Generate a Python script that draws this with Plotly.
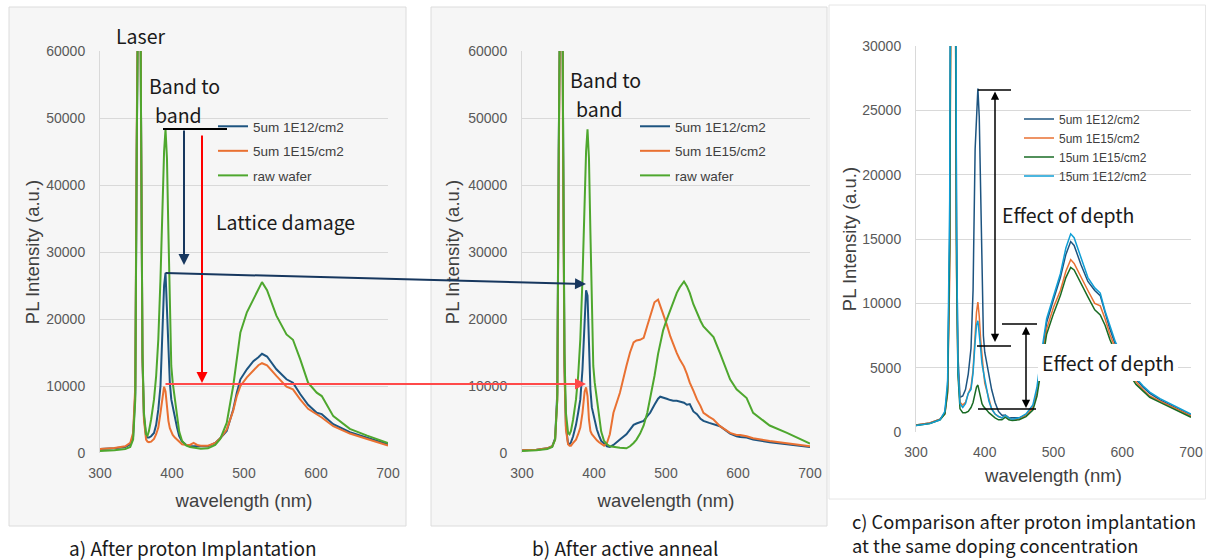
import plotly.graph_objects as go

W, H = 1206, 560


def px(x):
    return x / W


def py(y):
    return 1 - y / H


# ---------------- data ----------------
X_TICKS = [300, 400, 500, 600, 700]

# Panel a) After proton implantation
WL_A = [300, 320, 335, 342, 346, 349, 351, 353, 355, 357,
        359, 361, 364, 366, 368, 371, 375, 378, 381, 384,
        387, 389, 391, 393, 395, 397, 399, 401, 404, 407,
        410, 414, 420, 425, 430, 435, 440, 450, 460, 467,
        476, 485, 490, 495, 504, 513, 520, 525, 532, 545,
        559, 568, 578, 589, 601, 608, 624, 647, 671, 700]
A_5UM_1E12 = [600, 700, 900, 1300, 2500, 9000, 45000, 95000, 95000, 50000,
              14000, 5500, 2500, 2300, 2300, 2500, 3000, 4200, 6500, 10000,
              18000, 25000, 26900, 21000, 14000, 10500, 8000, 6800, 5500, 3800,
              2500, 1700, 1200, 1000, 1000, 1000, 1000, 1000, 1500, 2200,
              3300, 6500, 9000, 11000, 12500, 13700, 14300, 14800, 14400, 12500,
              11000, 10500, 8800, 7200, 6000, 5800, 4300, 3100, 2300, 1300]
A_5UM_1E15 = [600, 750, 1000, 1500, 3000, 10000, 48000, 95000, 95000, 50000,
              14000, 5000, 2000, 1700, 1600, 1700, 2100, 2800, 3800, 6000,
              8800, 9900, 9200, 6800, 4800, 3700, 3100, 2700, 2300, 2000,
              1600, 1300, 1200, 1200, 1500, 1200, 1100, 1100, 1500, 2200,
              3500, 6300, 8500, 10000, 11300, 12400, 13100, 13400, 13100, 11500,
              9900, 9500, 8000, 6600, 5800, 5300, 4000, 2900, 2100, 1100]
A_RAW = [300, 400, 600, 900, 2000, 8000, 45000, 95000, 95000, 50000,
         15000, 6000, 2800, 2600, 3300, 5000, 8000, 11500, 17000, 26000,
         38000, 45000, 48300, 44000, 33000, 20000, 13000, 10500, 7800, 5000,
         3200, 1800, 1100, 900, 800, 700, 650, 700, 1200, 2100,
         4500, 10000, 14000, 18000, 21000, 22900, 24500, 25500, 24300, 20500,
         17700, 16900, 14000, 10500, 9000, 8500, 5500, 3600, 2600, 1500]

# Panel b) After active anneal
WL_B = [300, 320, 335, 342, 346, 349, 351, 353, 355, 357,
        359, 361, 364, 366, 368, 371, 375, 378, 381, 384,
        387, 389, 391, 393, 395, 397, 399, 401, 404, 407,
        410, 414, 418, 422, 427, 436, 445, 450, 455, 459,
        464, 469, 474, 478, 484, 489, 492, 496, 501, 506,
        510, 515, 519, 525, 529, 533, 538, 543, 548, 552,
        560, 566, 575, 589, 598, 603, 612, 621, 644, 668,
        700]
B_5UM_1E12 = [400, 500, 700, 1000, 2200, 9000, 45000, 95000, 95000, 50000,
              13000, 4000, 1400, 1300, 1600, 2500, 4200, 6000, 8000, 12500,
              21000, 24300, 23500, 16000, 9500, 6800, 5800, 4700, 3500, 2600,
              1800, 1400, 1000, 900, 1200, 2000, 2800, 3500, 4200, 4400,
              4600, 4800, 5500, 6000, 7200, 8100, 8400, 8300, 8100, 7900,
              7800, 7800, 7700, 7500, 7200, 7300, 6200, 5800, 5100, 4800,
              4500, 4300, 4000, 2900, 2500, 2400, 2300, 2000, 1600, 1300,
              900]
B_5UM_1E15 = [400, 500, 700, 1000, 2000, 8000, 42000, 95000, 95000, 45000,
              12000, 3500, 1300, 1100, 1100, 1500, 2000, 2800, 3800, 6000,
              9200, 9800, 8500, 5000, 3300, 2800, 2500, 2200, 1900, 1600,
              1400, 1100, 1500, 2800, 6000, 9000, 13000, 15000, 16500, 16800,
              16900, 17200, 19000, 20500, 22500, 22900, 22000, 20900, 19200, 17400,
              16200, 14900, 14000, 12900, 11800, 10500, 9300, 8000, 7000, 6000,
              5400, 5000, 4000, 3000, 2700, 2700, 2500, 2200, 1800, 1500,
              1000]
B_RAW = [300, 400, 600, 900, 2000, 8000, 45000, 95000, 95000, 50000,
         15000, 6000, 3000, 2800, 3300, 5000, 8000, 11500, 17000, 26000,
         38000, 45000, 48300, 44000, 33000, 20000, 13000, 10500, 7800, 5000,
         3200, 1800, 1300, 1000, 900, 800, 700, 1000, 1500, 2000,
         2900, 4100, 6000, 8000, 11500, 14800, 16500, 18300, 19900, 21300,
         22500, 23900, 24700, 25600, 24900, 23900, 22200, 20800, 19700, 18900,
         17900, 17300, 14900, 11000, 9500, 9000, 8200, 6000, 4100, 3000,
         1400]

# Panel c) Comparison after proton implantation
WL_C = [300, 320, 335, 342, 346, 349, 351, 353, 355, 357,
        359, 361, 364, 368, 372, 376, 380, 383, 386, 388,
        390, 392, 394, 396, 398, 400, 403, 406, 410, 415,
        420, 425, 430, 435, 440, 450, 460, 470, 476, 482,
        490, 500, 510, 518, 525, 530, 540, 550, 560, 568,
        575, 582, 590, 600, 610, 620, 630, 640, 655, 670,
        685, 700]
C_5UM_1E12 = [550, 700, 1000, 1500, 3500, 15000, 45000, 70000, 70000, 45000,
              15000, 6000, 2700, 2800, 3300, 4500, 6500, 11000, 22000, 25000,
              26700, 24500, 18500, 11000, 7500, 6200, 5400, 4500, 3300, 2300,
              1600, 1300, 1300, 1100, 1100, 1100, 1300, 1900, 3200, 5500,
              8500, 10300, 12000, 13800, 14800, 14500, 13000, 11700, 11000, 10600,
              9200, 8000, 6800, 5800, 5000, 4100, 3500, 3000, 2500, 2100,
              1700, 1300]
C_5UM_1E15 = [550, 700, 1000, 1400, 3000, 12000, 38000, 60000, 60000, 38000,
              12000, 5000, 2300, 2100, 2300, 3000, 3500, 4800, 7500, 9300,
              10100, 9000, 7200, 5800, 4800, 3800, 3100, 2600, 1800, 1400,
              1200, 1100, 1300, 1100, 1000, 1000, 1300, 1900, 3200, 5400,
              8000, 9700, 11000, 12500, 13400, 13100, 12000, 11000, 10000, 9800,
              8800, 7600, 6500, 5500, 4700, 3900, 3300, 2800, 2400, 2000,
              1600, 1250]
C_15UM_1E15 = [500, 650, 950, 1400, 3200, 14000, 40000, 60000, 60000, 40000,
               13000, 4500, 1800, 1500, 1500, 1600, 1900, 2300, 3000, 3500,
               3650, 3200, 2600, 2200, 2000, 1900, 1700, 1500, 1300, 1100,
               950, 950, 1150, 950, 900, 950, 1200, 1700, 2800, 5000,
               7600, 9200, 10600, 12000, 12800, 12600, 11500, 10500, 9500, 9100,
               8300, 7200, 6200, 5300, 4500, 3700, 3200, 2700, 2300, 1900,
               1500, 1150]
C_15UM_1E12 = [500, 650, 950, 1600, 4000, 18000, 50000, 70000, 70000, 50000,
               16000, 5000, 2200, 1900, 2200, 3000, 3300, 4600, 7000, 8300,
               8650, 7800, 6500, 5300, 4500, 4100, 3300, 2400, 1800, 1400,
               1200, 1100, 1300, 1100, 1000, 1100, 1400, 2100, 3500, 6000,
               8800, 10600, 12300, 14300, 15400, 15100, 13500, 12000, 11200, 10800,
               9400, 8200, 7000, 5900, 5100, 4200, 3600, 3100, 2600, 2200,
               1800, 1400]

# ---------------- style ----------------
C_BLUE = "#1d5480"
C_ORANGE = "#E97132"
C_GREEN = "#4EA72E"
C_DGREEN = "#196B24"
C_LBLUE = "#0F9ED5"

SANS = "Liberation Sans, Arial, sans-serif"
JP = "Noto Sans CJK JP, Noto Sans, sans-serif"

fig = go.Figure()


def add(x, y, name, color, xa, ya, leg, grp, width):
    fig.add_trace(go.Scatter(
        x=x, y=y, name=name, mode="lines",
        line=dict(color=color, width=width),
        xaxis=xa, yaxis=ya, legend=leg, legendgroup=grp,
        hoverinfo="skip"))


add(WL_A, A_5UM_1E12, "5um 1E12/cm2", C_BLUE, "x", "y", "legend", "a1", 2)
add(WL_A, A_5UM_1E15, "5um 1E15/cm2", C_ORANGE, "x", "y", "legend", "a2", 2)
add(WL_A, A_RAW, "raw wafer", C_GREEN, "x", "y", "legend", "a3", 2)

add(WL_B, B_5UM_1E12, "5um 1E12/cm2", C_BLUE, "x2", "y2", "legend2", "b1", 2)
add(WL_B, B_5UM_1E15, "5um 1E15/cm2", C_ORANGE, "x2", "y2", "legend2", "b2", 2)
add(WL_B, B_RAW, "raw wafer", C_GREEN, "x2", "y2", "legend2", "b3", 2)

add(WL_C, C_5UM_1E12, "5um 1E12/cm2", C_BLUE, "x3", "y3", "legend3", "c1", 1.5)
add(WL_C, C_5UM_1E15, "5um 1E15/cm2", C_ORANGE, "x3", "y3", "legend3", "c2", 1.5)
add(WL_C, C_15UM_1E15, "15um 1E15/cm2", C_DGREEN, "x3", "y3", "legend3", "c3", 1.5)
add(WL_C, C_15UM_1E12, "15um 1E12/cm2", C_LBLUE, "x3", "y3", "legend3", "c4", 1.5)

tickfont = dict(family=SANS, size=14, color="#595959")
titlefont = dict(family=SANS, size=18.5, color="#404040")


def xax(x0, x1, anchor, standoff):
    return dict(domain=[px(x0), px(x1)], anchor=anchor, range=[300, 700],
                tickvals=X_TICKS, showgrid=False, zeroline=False,
                showline=False, ticks="", tickfont=tickfont,
                ticklabelstandoff=10, fixedrange=True, automargin=False,
                title=dict(text="wavelength (nm)", font=titlefont, standoff=standoff))


def yax(y0, y1, anchor, top, dtick, standoff):
    return dict(domain=[py(y1), py(y0)], anchor=anchor, range=[0, top],
                dtick=dtick, tickformat="d", showgrid=True,
                gridcolor="#d9d9d9", gridwidth=1, zeroline=False,
                showline=True, linecolor="#d9d9d9", linewidth=1,
                ticks="", tickfont=tickfont, ticklabelstandoff=11,
                fixedrange=True, automargin=False,
                title=dict(text="PL Intensity (a.u.)", font=titlefont, standoff=standoff))


def legend(x_text, y_top, size, gap):
    return dict(x=px(x_text - 40), y=py(y_top), xanchor="left", yanchor="top",
                bgcolor="rgba(0,0,0,0)", borderwidth=0,
                font=dict(family=SANS, size=size, color="#404040"),
                traceorder="grouped", tracegroupgap=gap,
                itemclick=False, itemdoubleclick=False)


shapes = [
    dict(type="rect", xref="paper", yref="paper", x0=px(9), x1=px(406),
         y0=py(526), y1=py(7), fillcolor="#f6f6f6",
         line=dict(color="#dcdcdc", width=1), layer="below"),
    dict(type="rect", xref="paper", yref="paper", x0=px(431), x1=px(827),
         y0=py(526), y1=py(7), fillcolor="#f6f6f6",
         line=dict(color="#dcdcdc", width=1), layer="below"),
    dict(type="rect", xref="paper", yref="paper", x0=px(829), x1=px(1205.5),
         y0=py(499), y1=py(5), fillcolor="#ffffff",
         line=dict(color="#e6e6e6", width=1), layer="below"),
]


def hline(x0, x1, y, color="black", width=2):
    shapes.append(dict(type="line", xref="paper", yref="paper",
                       x0=px(x0), x1=px(x1), y0=py(y), y1=py(y),
                       line=dict(color=color, width=width)))


hline(163, 227, 129)          # panel a: band-to-band level of raw wafer
hline(978, 1011, 90, width=1.5)   # panel c marks
hline(977, 1011, 346, width=1.5)
hline(1002, 1037, 324, width=1.5)
hline(978, 1036, 409, width=1.5)

annotations = []


def arrow(xh, yh, xt, yt, color, width, both=False):
    annotations.append(dict(
        x=px(xh), y=py(yh), xref="paper", yref="paper",
        ax=xt - xh, ay=yt - yh, axref="pixel", ayref="pixel",
        text="", showarrow=True, arrowhead=2, arrowsize=1.1,
        arrowwidth=width, arrowcolor=color,
        arrowside="end+start" if both else "end", startarrowhead=2,
        startarrowsize=1.1))


arrow(184, 265, 184, 129, "#17375e", 2)
arrow(202, 383, 202, 134, "#ff0000", 2)
arrow(586, 284, 164, 273, "#17375e", 2)
arrow(586, 384, 164, 384, "#ff4a4a", 2)
arrow(995, 342, 995, 90, "black", 1.5, both=True)
arrow(1026, 408, 1026, 325, "black", 1.5, both=True)


def label(text, x, y, xanchor="left", yanchor="middle", size=19.5, bg=None,
          pad=0, align="left"):
    d = dict(text=text, x=px(x), y=py(y), xref="paper", yref="paper",
             xanchor=xanchor, yanchor=yanchor, showarrow=False, align=align,
             font=dict(family=JP, size=size, color="#1a1a1a"),
             borderpad=pad, borderwidth=0)
    if bg:
        d["bgcolor"] = bg
    annotations.append(d)


label("Laser", 140, 35, xanchor="center")
label("Band to", 149, 100, yanchor="bottom")
label("band", 155, 100, yanchor="top")
label("Lattice damage", 216, 222)
label("Band to", 570, 94, yanchor="bottom")
label("band", 576, 94, yanchor="top")
label("Effect of depth", 1002, 215)
label("Effect of depth", 1038, 362, bg="white", pad=4)
label("a) After proton Implantation", 193, 547.5, xanchor="center", size=19)
label("b) After active anneal", 625, 547.5, xanchor="center", size=19)
label("c) Comparison after proton implantation", 852, 533.8,
      yanchor="bottom", size=18.3)
label("at the same doping concentration", 852, 558,
      yanchor="bottom", size=18.3)

fig.update_layout(
    width=W, height=H,
    margin=dict(l=0, r=0, t=0, b=0, autoexpand=False),
    paper_bgcolor="white", plot_bgcolor="rgba(0,0,0,0)",
    xaxis=xax(100, 388, "y", 14), yaxis=yax(51, 453, "x", 60000, 10000, 1),
    xaxis2=xax(522, 810, "y2", 14), yaxis2=yax(51, 453, "x2", 60000, 10000, 3),
    xaxis3=xax(916, 1191, "y3", 10), yaxis3=yax(46, 432, "x3", 30000, 5000, 0),
    legend=legend(253, 111, 13.5, 4),
    legend2=legend(675, 111, 13.5, 4),
    legend3=legend(1059, 104.5, 12, 0),
    shapes=shapes, annotations=annotations,
    showlegend=True,
)

fig.write_html(
    "out.html",
    config={"displayModeBar": False},
    post_script="document.body.style.margin='0';"
                "document.body.style.overflow='hidden';",
)
